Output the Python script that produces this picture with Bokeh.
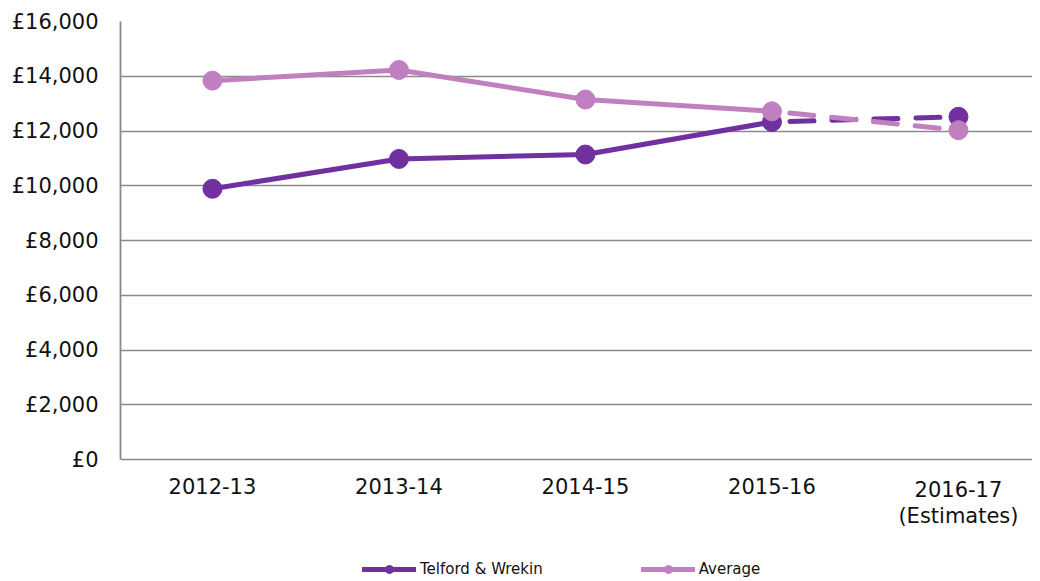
from bokeh.plotting import figure
from bokeh.models import Legend, LegendItem, Range1d, FixedTicker
from bokeh.core.properties import value
from bokeh.embed import file_html
from bokeh.resources import INLINE

# ---- data ----
years = ["2012-13", "2013-14", "2014-15", "2015-16", "2016-17"]
year_labels = ["2012-13", "2013-14", "2014-15", "2015-16", "2016-17\n(Estimates)"]
telford = [9890, 10980, 11140, 12330, 12520]
average = [13840, 14230, 13150, 12720, 12030]
y_ticks = [0, 2000, 4000, 6000, 8000, 10000, 12000, 14000, 16000]
y_tick_labels = ["£0", "£2,000", "£4,000", "£6,000", "£8,000",
                 "£10,000", "£12,000", "£14,000", "£16,000"]
series_names = ["Telford & Wrekin", "Average"]

TEL_C = "#7030A0"
AVG_C = "#C080C0"
GRID_C = "#8a8a8a"
FONT = "DejaVu Sans"

# category positions along the x scale (one slot per year)
xpos = list(range(len(years)))
y_min, y_max = y_ticks[0], y_ticks[-1]
# frame continues below the value axis to hold category labels and legend
below_room = (y_max - y_min) * 120 / 438

p = figure(
    width=1032, height=579,
    x_range=Range1d(-0.493, 4.397),
    y_range=Range1d(y_min - below_room, y_max),
    x_axis_location=None,
    min_border_left=120, min_border_right=0, min_border_top=21, min_border_bottom=0,
    output_backend="svg", toolbar_location=None,
)
p.outline_line_color = None
p.background_fill_color = "white"
p.border_fill_color = "white"

# grid (the 0 line doubles as the category axis line)
p.xgrid.grid_line_color = None
p.ygrid.ticker = FixedTicker(ticks=y_ticks)
p.ygrid.grid_line_color = GRID_C
p.ygrid.grid_line_width = 1.7

# value axis
ax = p.yaxis[0]
ax.ticker = FixedTicker(ticks=y_ticks)
ax.major_label_overrides = dict(zip(y_ticks, y_tick_labels))
ax.bounds = (y_min, y_max)
ax.major_tick_line_color = None
ax.minor_tick_line_color = None
ax.major_tick_out = 0
ax.major_tick_in = 0
ax.minor_tick_out = 0
ax.minor_tick_in = 0
ax.axis_line_color = GRID_C
ax.axis_line_width = 1.8
ax.major_label_text_font = FONT
ax.major_label_text_font_size = "21px"
ax.major_label_text_color = "#111111"
ax.major_label_standoff = 22

# category labels under the 0 line
p.text(x=xpos, y=[y_min] * len(xpos), text=year_labels,
       y_offset=18, text_align="center", text_baseline="top",
       text_font=value(FONT), text_font_size="21px", text_color="#111111",
       text_line_height=1.1)

def series(vals, color):
    solid = p.line(xpos[:4], vals[:4], line_color=color, line_width=5,
                   line_cap="round", line_join="round")
    p.line(xpos[3:], vals[3:], line_color=color, line_width=5,
           line_dash="24 18", line_dash_offset=24, line_cap="round")
    pts = p.scatter(xpos, vals, size=19, fill_color=color, line_color=color)
    return solid, pts

t_line, t_pts = series(telford, TEL_C)
a_line, a_pts = series(average, AVG_C)

legend = Legend(
    items=[LegendItem(label=series_names[0], renderers=[t_line, t_pts]),
           LegendItem(label=series_names[1], renderers=[a_line, a_pts])],
    orientation="horizontal", location=(242, 0),
    glyph_width=54, glyph_height=20, label_standoff=4, spacing=98,
    label_text_font=FONT, label_text_font_size="15px", label_text_color="#111111",
    border_line_color=None, background_fill_alpha=0, padding=0, margin=0,
)
p.add_layout(legend, "center")

open("out.html", "w").write(file_html(p, INLINE))
